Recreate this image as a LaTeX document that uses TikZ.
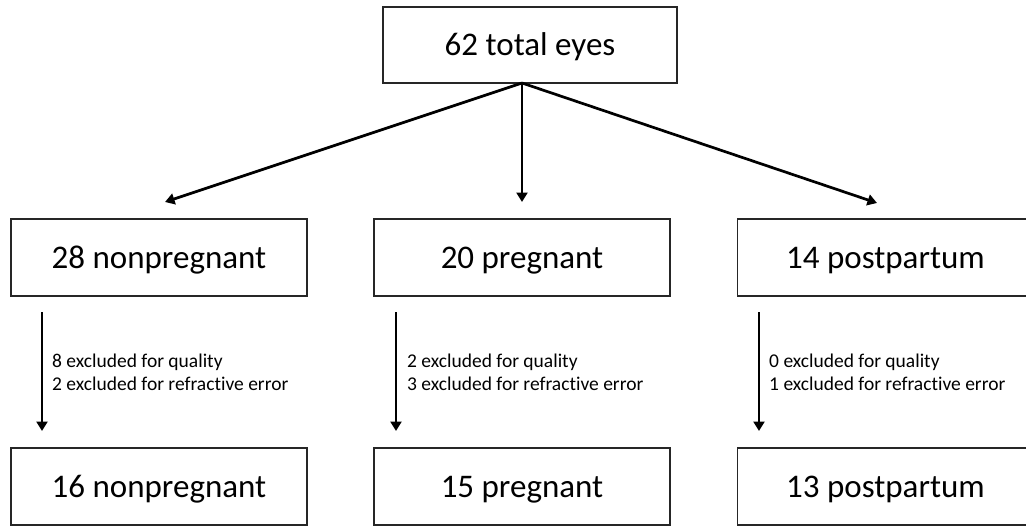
\documentclass[tikz,border=0pt]{standalone}
\usepackage{fontspec}
\setmainfont{Carlito}[Ligatures=NoCommon]
\usetikzlibrary{arrows.meta}
\begin{document}
\begin{tikzpicture}[x=1pt,y=-1pt,
  box/.style={draw=black!85, line width=1.6pt, minimum width=296pt, minimum height=77pt,
    inner sep=0pt, text height=26pt, text depth=5pt, font=\fontsize{33}{39}\selectfont},
  conn/.style={line width=2.7pt, -{Triangle[width=11pt,length=9.5pt]}},
  excl/.style={anchor=base west, align=left, inner sep=0pt, font=\fontsize{19.5}{23}\selectfont}]
\useasboundingbox (0,0) rectangle (1026,527);
\node[box, minimum width=294pt, minimum height=76pt] (top) at (530,45) {62 total eyes};
\node[box] (n1) at (159,257.5) {28 nonpregnant};
\node[box] (p1) at (522,257.5) {20 pregnant};
\node[box] (q1) at (885.5,257.5) {14 postpartum};
\node[box] (n2) at (159,486.5) {16 nonpregnant};
\node[box] (p2) at (522,486.5) {15 pregnant};
\node[box] (q2) at (885.5,486.5) {13 postpartum};
\coordinate (o) at (522,83);
\coordinate (tn) at (165,202);
\coordinate (tp) at (522,202);
\coordinate (tq) at (877,203);
\draw[conn] (o) -- (tn);
\draw[conn] (o) -- (tp);
\draw[conn] (o) -- (tq);
\coordinate (sn) at (42,312);
\coordinate (en) at (42,431);
\coordinate (sp) at (396,312);
\coordinate (ep) at (396,431);
\coordinate (sq) at (759,312);
\coordinate (eq) at (759,431);
\draw[conn] (sn) -- (en);
\draw[conn] (sp) -- (ep);
\draw[conn] (sq) -- (eq);
\node[excl] (xn) at (52,390) {8 excluded for quality\\2 excluded for refractive error};
\node[excl] (xp) at (407,390) {2 excluded for quality\\3 excluded for refractive error};
\node[excl] (xq) at (769,390) {0 excluded for quality\\1 excluded for refractive error};
\end{tikzpicture}
\end{document}
